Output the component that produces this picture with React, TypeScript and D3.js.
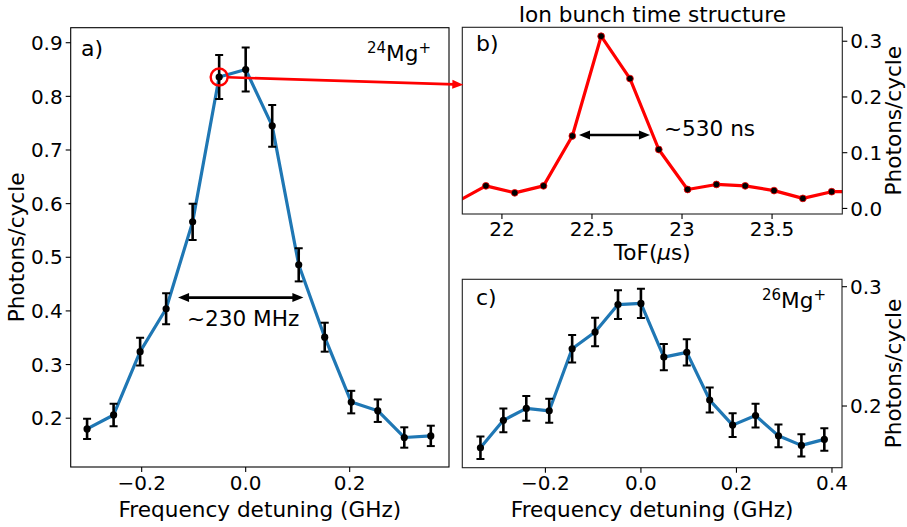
import React from "react";
import * as d3 from "d3";

// ---- Data ----
const freqA = [-0.305, -0.254, -0.203, -0.153, -0.102, -0.051, 0, 0.051, 0.102, 0.152, 0.203, 0.254, 0.305, 0.356];
const photonsA = [0.180, 0.206, 0.324, 0.404, 0.566, 0.836, 0.850, 0.745, 0.486, 0.351, 0.230, 0.214, 0.164, 0.167];
const errA = [0.019, 0.021, 0.026, 0.029, 0.034, 0.041, 0.041, 0.039, 0.031, 0.027, 0.021, 0.021, 0.019, 0.019];

const tofB = [21.751, 21.911, 22.071, 22.231, 22.391, 22.551, 22.711, 22.871, 23.031, 23.191, 23.351, 23.511, 23.671, 23.831, 23.991];
const photonsB = [0.012, 0.0405, 0.028, 0.0405, 0.130, 0.309, 0.233, 0.1057, 0.034, 0.043, 0.0405, 0.032, 0.018, 0.030, 0.030];

const freqC = [-0.336, -0.288, -0.240, -0.192, -0.144, -0.096, -0.048, 0, 0.048, 0.096, 0.144, 0.192, 0.240, 0.288, 0.336, 0.384];
const photonsC = [0.165, 0.188, 0.198, 0.196, 0.248, 0.262, 0.285, 0.286, 0.241, 0.245, 0.205, 0.184, 0.192, 0.175, 0.167, 0.172];
const errC = [0.0094, 0.010, 0.0103, 0.010, 0.0116, 0.012, 0.012, 0.0123, 0.011, 0.011, 0.0105, 0.010, 0.010, 0.0095, 0.0094, 0.0094];

const ticksAX = [-0.2, 0.0, 0.2];
const ticksAY = [0.2, 0.3, 0.4, 0.5, 0.6, 0.7, 0.8, 0.9];
const ticksBX = [22, 22.5, 23, 23.5];
const ticksBY = [0.0, 0.1, 0.2, 0.3];
const ticksCX = [-0.2, 0.0, 0.2, 0.4];
const ticksCY = [0.2, 0.3];

const BLUE = "#1f77b4";
const RED = "#ff0000";
const FONT = "DejaVu Sans, sans-serif";
const FS = 20;   // tick labels
const LFS = 21.6; // axis labels, titles, annotations

const fmt = (v: number, d: number) => {
  const s = Math.abs(v).toFixed(d);
  return v < -1e-9 ? "\u2212" + s : s;
};
const fmtB = (v: number) => String(v);

// ---- scales ----
const axA = { l: 70.7, r: 449, t: 27.7, b: 467 };
const axB = { l: 462.3, r: 842.3, t: 27.3, b: 214 };
const axC = { l: 462.3, r: 842, t: 279.3, b: 467.7 };

const xA = d3.scaleLinear().domain([-0.3365, 0.391]).range([axA.l, axA.r]);
const yA = d3.scaleLinear().domain([0.109, 0.928]).range([axA.b, axA.t]);
const xB = d3.scaleLinear().domain([21.78, 23.89]).range([axB.l, axB.r]);
const yB = d3.scaleLinear().domain([-0.01, 0.325]).range([axB.b, axB.t]);
const xC = d3.scaleLinear().domain([-0.374, 0.421]).range([axC.l, axC.r]);
const yC = d3.scaleLinear().domain([0.1483, 0.3062]).range([axC.b, axC.t]);

const TL = 5; // tick length

function Arrow({ x1, y1, x2, y2, both, color, w }: any) {
  const ang = Math.atan2(y2 - y1, x2 - x1);
  const hl = 11, hw = 4.5;
  const head = (x: number, y: number, a: number) => {
    const bx = x - hl * Math.cos(a), by = y - hl * Math.sin(a);
    const px = -Math.sin(a) * hw, py = Math.cos(a) * hw;
    return `M${x},${y}L${bx + px},${by + py}L${bx - px},${by - py}Z`;
  };
  const sx = both ? x1 + (hl - 2) * Math.cos(ang) : x1;
  const sy = both ? y1 + (hl - 2) * Math.sin(ang) : y1;
  const ex = x2 - (hl - 2) * Math.cos(ang), ey = y2 - (hl - 2) * Math.sin(ang);
  return (
    <g>
      <line x1={sx} y1={sy} x2={ex} y2={ey} stroke={color} strokeWidth={w} />
      <path d={head(x2, y2, ang)} fill={color} />
      {both && <path d={head(x1, y1, ang + Math.PI)} fill={color} />}
    </g>
  );
}

function ErrSeries({ xs, ys, es, x, y, clip }: any) {
  const line = d3.line<number>().x((_, i) => x(xs[i])).y((d) => y(d));
  return (
    <g clipPath={clip}>
      <path d={line(ys) || ""} fill="none" stroke={BLUE} strokeWidth={3.2} strokeLinejoin="round" />
      {ys.map((v: number, i: number) => {
        const cx = x(xs[i]);
        const top = y(v + es[i]), bot = y(v - es[i]);
        return (
          <g key={i}>
            <line x1={cx} x2={cx} y1={top} y2={bot} stroke="#000" strokeWidth={2.6} />
            <line x1={cx - 4} x2={cx + 4} y1={top} y2={top} stroke="#000" strokeWidth={2} />
            <line x1={cx - 4} x2={cx + 4} y1={bot} y2={bot} stroke="#000" strokeWidth={2} />
            <circle cx={cx} cy={y(v)} r={3.6} fill="#000" />
          </g>
        );
      })}
    </g>
  );
}

export default function App() {
  const lineB = d3.line<number>().x((_, i) => xB(tofB[i])).y((d) => yB(d));

  // red connector
  const cx0 = xA(freqA[5]), cy0 = yA(photonsA[5]);
  const ex = axB.l + 1, ey = yB(0.222);
  const ang = Math.atan2(ey - cy0, ex - cx0);
  const sx = cx0 + 8.5 * Math.cos(ang), sy = cy0 + 8.5 * Math.sin(ang);

  return (
    <svg width={907} height={527} style={{ position: "absolute", left: 0, top: 0, background: "#fff" }} fontFamily={FONT}>
      <defs>
        <clipPath id="cA"><rect x={axA.l} y={axA.t} width={axA.r - axA.l} height={axA.b - axA.t} /></clipPath>
        <clipPath id="cB"><rect x={axB.l} y={axB.t} width={axB.r - axB.l} height={axB.b - axB.t} /></clipPath>
        <clipPath id="cC"><rect x={axC.l} y={axC.t} width={axC.r - axC.l} height={axC.b - axC.t} /></clipPath>
      </defs>
      <rect width={907} height={527} fill="#fff" />

      {/* ---------- Panel a ---------- */}
      <ErrSeries xs={freqA} ys={photonsA} es={errA} x={xA} y={yA} clip="url(#cA)" />
      <rect x={axA.l} y={axA.t} width={axA.r - axA.l} height={axA.b - axA.t} fill="none" stroke="#000" strokeWidth={1.1} />
      {ticksAX.map((t) => (
        <g key={t}>
          <line x1={xA(t)} x2={xA(t)} y1={axA.b} y2={axA.b + TL} stroke="#000" strokeWidth={1.1} />
          <text x={xA(t)} y={axA.b + 23} fontSize={FS} textAnchor="middle">{fmt(t, 1)}</text>
        </g>
      ))}
      {ticksAY.map((t) => (
        <g key={t}>
          <line x1={axA.l - TL} x2={axA.l} y1={yA(t)} y2={yA(t)} stroke="#000" strokeWidth={1.1} />
          <text x={axA.l - 8} y={yA(t)} dy="0.36em" fontSize={FS} textAnchor="end">{fmt(t, 1)}</text>
        </g>
      ))}
      <text x={(axA.l + axA.r) / 2} y={517} fontSize={LFS} textAnchor="middle">Frequency detuning (GHz)</text>
      <text transform={`translate(24,${(axA.t + axA.b) / 2}) rotate(-90)`} fontSize={LFS} textAnchor="middle">Photons/cycle</text>
      <text x={81} y={56} fontSize={22}>a)</text>
      <text x={431} y={60.5} fontSize={LFS} textAnchor="end">
        <tspan fontSize={15} dy={-8}>24</tspan>
        <tspan dy={8}>Mg</tspan>
        <tspan fontSize={15} dy={-8}>+</tspan>
      </text>
      <Arrow x1={xA(-0.130)} y1={yA(0.4248)} x2={xA(0.111)} y2={yA(0.4248)} both color="#000" w={2.6} />
      <text x={xA(-0.113)} y={yA(0.371)} fontSize={LFS}>~230 MHz</text>

      {/* ---------- Panel b ---------- */}
      <g clipPath="url(#cB)">
        <path d={lineB(photonsB) || ""} fill="none" stroke={RED} strokeWidth={3.2} strokeLinejoin="round" />
        {photonsB.map((v, i) => (
          <circle key={i} cx={xB(tofB[i])} cy={yB(v)} r={3.4} fill="#000" stroke={RED} strokeWidth={0.8} />
        ))}
      </g>
      <rect x={axB.l} y={axB.t} width={axB.r - axB.l} height={axB.b - axB.t} fill="none" stroke="#222" strokeWidth={1.1} />
      {ticksBX.map((t) => (
        <g key={t}>
          <line x1={xB(t)} x2={xB(t)} y1={axB.b} y2={axB.b + TL} stroke="#000" strokeWidth={1.1} />
          <text x={xB(t)} y={axB.b + 21.5} fontSize={FS} textAnchor="middle">{fmtB(t)}</text>
        </g>
      ))}
      {ticksBY.map((t) => (
        <g key={t}>
          <line x1={axB.r} x2={axB.r + TL} y1={yB(t)} y2={yB(t)} stroke="#000" strokeWidth={1.1} />
          <text x={axB.r + 8} y={yB(t)} dy="0.36em" fontSize={FS} textAnchor="start">{fmt(t, 1)}</text>
        </g>
      ))}
      <text x={(axB.l + axB.r) / 2} y={259.5} fontSize={LFS} textAnchor="middle">ToF(<tspan fontStyle="italic">μ</tspan>s)</text>
      <text x={(axB.l + axB.r) / 2} y={22} fontSize={LFS} textAnchor="middle">Ion bunch time structure</text>
      <text transform={`translate(901,${(axB.t + axB.b) / 2}) rotate(-90)`} fontSize={LFS} textAnchor="middle">Photons/cycle</text>
      <text x={476} y={51} fontSize={22}>b)</text>
      <Arrow x1={xB(22.428)} y1={yB(0.1317)} x2={xB(22.822)} y2={yB(0.1317)} both color="#000" w={2.6} />
      <text x={xB(22.9)} y={yB(0.1295)} fontSize={LFS}>~530 ns</text>

      {/* ---------- Panel c ---------- */}
      <ErrSeries xs={freqC} ys={photonsC} es={errC} x={xC} y={yC} clip="url(#cC)" />
      <rect x={axC.l} y={axC.t} width={axC.r - axC.l} height={axC.b - axC.t} fill="none" stroke="#222" strokeWidth={1.1} />
      {ticksCX.map((t) => (
        <g key={t}>
          <line x1={xC(t)} x2={xC(t)} y1={axC.b} y2={axC.b + TL} stroke="#000" strokeWidth={1.1} />
          <text x={xC(t)} y={axC.b + 22} fontSize={FS} textAnchor="middle">{fmt(t, 1)}</text>
        </g>
      ))}
      {ticksCY.map((t) => (
        <g key={t}>
          <line x1={axC.r} x2={axC.r + TL} y1={yC(t)} y2={yC(t)} stroke="#000" strokeWidth={1.1} />
          <text x={axC.r + 8} y={yC(t)} dy="0.36em" fontSize={FS} textAnchor="start">{fmt(t, 1)}</text>
        </g>
      ))}
      <text x={(axC.l + axC.r) / 2} y={517} fontSize={LFS} textAnchor="middle">Frequency detuning (GHz)</text>
      <text transform={`translate(901,${(axC.t + axC.b) / 2}) rotate(-90)`} fontSize={LFS} textAnchor="middle">Photons/cycle</text>
      <text x={476} y={305} fontSize={22}>c)</text>
      <text x={826} y={308} fontSize={LFS} textAnchor="end">
        <tspan fontSize={15} dy={-8}>26</tspan>
        <tspan dy={8}>Mg</tspan>
        <tspan fontSize={15} dy={-8}>+</tspan>
      </text>

      {/* ---------- red connector ---------- */}
      <circle cx={cx0} cy={cy0} r={8.5} fill="none" stroke={RED} strokeWidth={2.4} />
      <Arrow x1={sx} y1={sy} x2={ex} y2={ey} color={RED} w={2.6} />
    </svg>
  );
}
